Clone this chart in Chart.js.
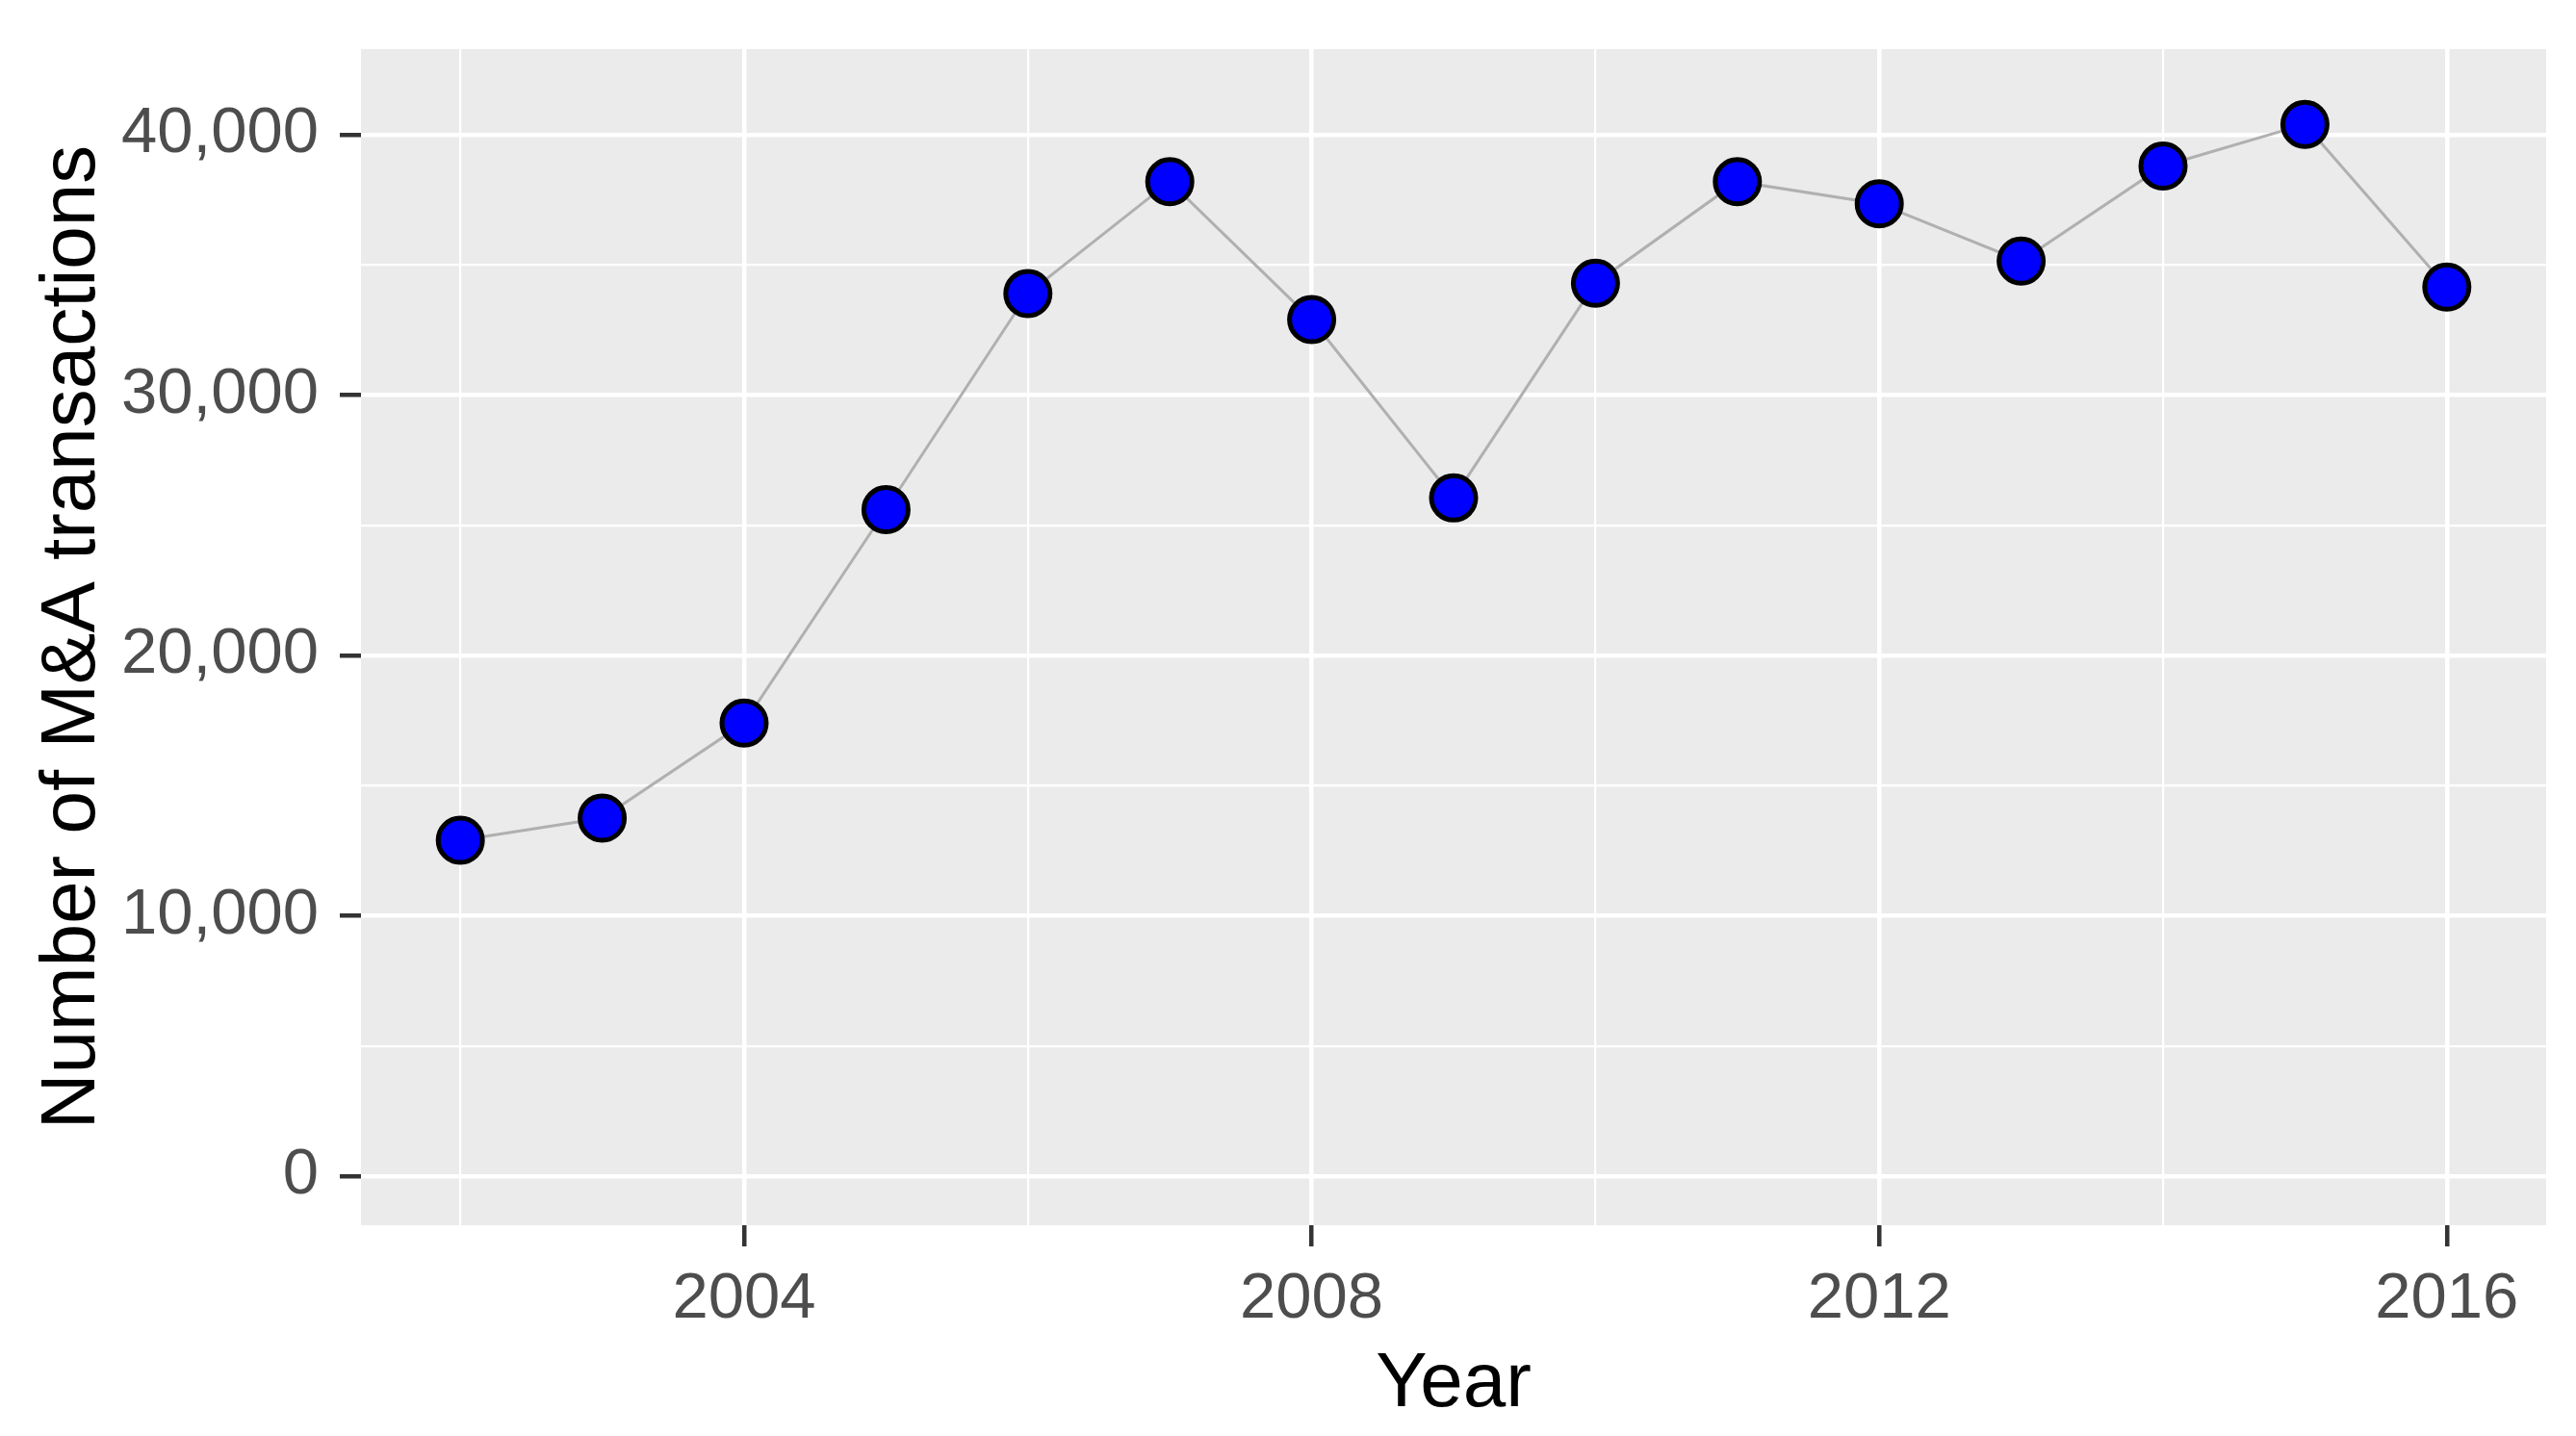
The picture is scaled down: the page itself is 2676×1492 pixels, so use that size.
<!DOCTYPE html>
<html>
<head>
<meta charset="utf-8">
<script src="https://cdn.jsdelivr.net/npm/chart.js@4/dist/chart.umd.min.js"></script>
<style>
html,body{margin:0;padding:0;background:#fff;}
canvas{display:block;}
</style>
</head>
<body>
<canvas id="c" width="2676" height="1492"></canvas>
<script>
const years = [2002,2003,2004,2005,2006,2007,2008,2009,2010,2011,2012,2013,2014,2015,2016];
const deals = [12900,13750,17400,25600,33900,38200,32900,26050,34300,38200,37350,35150,38800,40400,34150];
const xMajorTicks = [2004,2008,2012,2016];
const xMinorTicks = [2002,2006,2010,2014];
const yMajorTicks = [0,10000,20000,30000,40000];
const yMinorTicks = [5000,15000,25000,35000];
const xTitle = 'Year';
const yTitle = 'Number of M&A transactions';

const panelBg = {
  id:'panelBg',
  beforeDraw(chart){
    const {ctx, chartArea:a} = chart;
    ctx.save();
    ctx.fillStyle = '#EBEBEB';
    ctx.fillRect(a.left, a.top, a.right-a.left, a.bottom-a.top);
    ctx.restore();
  }
};

const isMajor = (v, majors) => majors.includes(v);
const tickFont = {family:'"Liberation Sans", Arial, sans-serif', size:67};
const titleFont = {family:'"Liberation Sans", Arial, sans-serif', size:80};

new Chart(document.getElementById('c'), {
  type:'line',
  data:{
    datasets:[{
      data: years.map((y,i)=>({x:y, y:deals[i]})),
      borderColor:'#B0B0B0',
      borderWidth:3,
      pointRadius:23,
      pointHoverRadius:23,
      pointBorderWidth:5,
      pointBackgroundColor:'#0000FF',
      pointBorderColor:'#000000',
      tension:0
    }]
  },
  options:{
    responsive:false,
    animation:false,
    events:[],
    layout:{padding:{left:0, top:51, right:31, bottom:0}},
    plugins:{legend:{display:false}, tooltip:{enabled:false}},
    scales:{
      x:{
        type:'linear',
        min:2001.3, max:2016.7,
        afterBuildTicks(s){ s.ticks = [...xMinorTicks, ...xMajorTicks].sort((a,b)=>a-b).map(v=>({value:v})); },
        afterFit(s){ s.height = 219; s.paddingLeft = 0; s.paddingRight = 0; },
        border:{display:false},
        grid:{
          color:'#FFFFFF',
          lineWidth:(c)=> isMajor(c.tick && c.tick.value, xMajorTicks) ? 4.5 : 2.2,
          tickColor:(c)=> isMajor(c.tick && c.tick.value, xMajorTicks) ? '#333333' : 'rgba(0,0,0,0)',
          tickWidth:4.5,
          tickLength:22,
          drawTicks:true
        },
        ticks:{
          autoSkip:false,
          maxRotation:0,
          color:'#4D4D4D',
          font:tickFont,
          padding:15,
          callback:(v)=> xMajorTicks.includes(v) ? String(v) : ''
        },
        title:{display:true, text:xTitle, color:'#000000', font:titleFont, padding:{top:0,bottom:5}}
      },
      y:{
        type:'linear',
        min:-1885, max:43290,
        afterBuildTicks(s){ s.ticks = [...yMajorTicks, ...yMinorTicks].sort((a,b)=>a-b).map(v=>({value:v})); },
        afterFit(s){ s.width = 375; s.paddingTop = 0; s.paddingBottom = 0; },
        border:{display:false},
        grid:{
          color:'#FFFFFF',
          lineWidth:(c)=> isMajor(c.tick && c.tick.value, yMajorTicks) ? 4.5 : 2.2,
          tickColor:(c)=> isMajor(c.tick && c.tick.value, yMajorTicks) ? '#333333' : 'rgba(0,0,0,0)',
          tickWidth:4.5,
          tickLength:22,
          drawTicks:true
        },
        ticks:{
          autoSkip:false,
          color:'#4D4D4D',
          font:tickFont,
          padding:22,
          callback:(v)=> yMajorTicks.includes(v) ? v.toLocaleString('en-US') : ''
        },
        title:{display:true, text:yTitle, color:'#000000', font:titleFont, padding:{top:28,bottom:0}}
      }
    }
  },
  plugins:[panelBg]
});
</script>
</body>
</html>
